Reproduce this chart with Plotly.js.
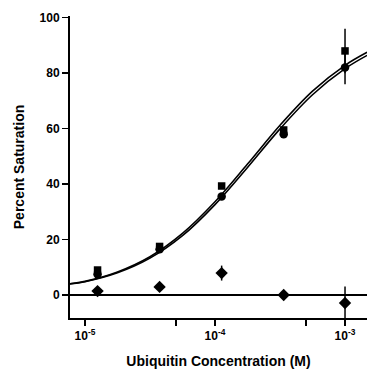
<!DOCTYPE html>
<html>
<head>
<meta charset="utf-8">
<script src="https://cdn.plot.ly/plotly-3.0.1.min.js"></script>
<style>html,body{margin:0;padding:0;background:#fff;}#chart{width:367px;height:375px;}</style>
</head>
<body>
<div id="chart"></div>
<script>
// Concentrations (M)
var conc = [1.25e-5, 3.75e-5, 1.125e-4, 3.375e-4, 1.0e-3];
// Replicate A (squares)
var satA = [9.0, 17.5, 39.3, 59.5, 88.0];
var errA = [0, 0, 0, 0, 8.0];
// Replicate B (circles)
var satB = [7.5, 16.5, 35.5, 58.0, 82.0];
var errB = [0, 0, 0, 0, 6.0];
// Control (diamonds)
var satCtrl = [1.4, 2.9, 7.9, 0.0, -2.9];
var errCtrl = [0, 0, 2.7, 0, 6.0];
// Fitted curves
var fitLog = [-5.12, -5.0, -4.75, -4.5, -4.25, -4.0, -3.75, -3.5, -3.25, -3.0, -2.83];
var fitA = [4.0, 4.9, 8.3, 13.8, 22.2, 33.6, 47.2, 61.2, 73.5, 82.8, 87.5];
var fitB = [4.0, 4.8, 8.0, 13.3, 21.4, 32.6, 46.0, 59.9, 72.2, 81.6, 86.4];
// Tick labels
var xTickVals = [1e-5, 1e-4, 1e-3];
var xTickText = ['10<sup>-5</sup>', '10<sup>-4</sup>', '10<sup>-3</sup>'];
var xMinorVals = [5e-5, 5e-4];
var yTickVals = [0, 20, 40, 60, 80, 100];

var fitX = fitLog.map(function (l) { return Math.pow(10, l); });

var traces = [
  {x: fitX, y: fitA, mode: 'lines', line: {color: '#000', width: 1.6, shape: 'spline'}, hoverinfo: 'skip'},
  {x: fitX, y: fitB, mode: 'lines', line: {color: '#000', width: 1.6, shape: 'spline'}, hoverinfo: 'skip'},
  {x: conc, y: satA, mode: 'markers', marker: {symbol: 'square', size: 7.5, color: '#000'},
   error_y: {type: 'data', array: errA, visible: true, color: '#000', thickness: 1.5, width: 0}},
  {x: conc, y: satB, mode: 'markers', marker: {symbol: 'circle', size: 8.5, color: '#000'},
   error_y: {type: 'data', array: errB, visible: true, color: '#000', thickness: 1.5, width: 0}},
  {x: conc, y: satCtrl, mode: 'markers', marker: {symbol: 'diamond', size: 9.5, color: '#000'},
   error_y: {type: 'data', array: errCtrl, visible: true, color: '#000', thickness: 1.5, width: 0}}
];

var fontFam = '"Liberation Sans", Arial, Helvetica, sans-serif';
var layout = {
  width: 367, height: 375,
  margin: {l: 70, r: 0, t: 16, b: 57},
  paper_bgcolor: '#fff', plot_bgcolor: '#fff',
  showlegend: false,
  font: {family: fontFam, color: '#000'},
  xaxis: {
    type: 'log',
    range: [-5.115, -2.831],
    tickmode: 'array', tickvals: xTickVals, ticktext: xTickText,
    ticks: 'outside', ticklen: 6, tickwidth: 1.5, tickcolor: '#000',
    minor: {tickmode: 'array', tickvals: xMinorVals, ticks: 'outside', ticklen: 6, tickwidth: 1.5, tickcolor: '#000', showgrid: false},
    showline: true, linecolor: '#000', linewidth: 2,
    showgrid: false, zeroline: false,
    tickfont: {size: 12, weight: 'bold', family: fontFam},
    title: {text: 'Ubiquitin Concentration (M)', font: {size: 14, weight: 'bold', family: fontFam}, standoff: 14}
  },
  yaxis: {
    range: [-8.3, 100.6],
    tickvals: yTickVals,
    ticks: 'outside', ticklen: 6, tickwidth: 1.5, tickcolor: '#000',
    showline: true, linecolor: '#000', linewidth: 2,
    showgrid: false,
    zeroline: true, zerolinecolor: '#000', zerolinewidth: 2,
    tickfont: {size: 12, weight: 'bold', family: fontFam},
    title: {text: 'Percent Saturation', font: {size: 14, weight: 'bold', family: fontFam}, standoff: 12}
  }
};

Plotly.newPlot('chart', traces, layout, {displayModeBar: false, staticPlot: true});
</script>
</body>
</html>
